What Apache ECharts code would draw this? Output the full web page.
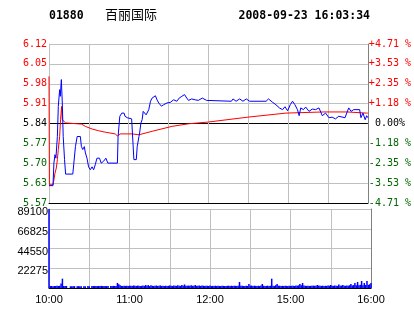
<!DOCTYPE html>
<html>
<head>
<meta charset="utf-8">
<script src="https://cdn.jsdelivr.net/npm/echarts@6/dist/echarts.min.js"></script>
<style>html,body{margin:0;padding:0;background:#fff}#c{width:414px;height:314px}</style>
</head>
<body>
<div id="c"></div>
<script>
// ---- data ----
const stockCode = '01880';
const stockName = '百丽国际';
const stamp = '2008-09-23 16:03:34';
const prevClose = 5.84;
const pctMin = -4.71, pctMax = 4.71, pctStep = 1.1775;
const priceLabels = ['5.57','5.63','5.70','5.77','5.84','5.91','5.98','6.05','6.12'];
const pctLabels = ['-4.71 %','-3.53 %','-2.35 %','-1.18 %',' 0.00%','+1.18 %','+2.35 %','+3.53 %','+4.71 %'];
const timeLabels = ['10:00','','11:00','','12:00','','15:00','','16:00'];
const volLabels = ['','22275','44550','66825','89100'];
const volMax = 89100, volStep = 22275;

// price line: minute index (0..240) and price
const priceMin = [0,3,3.7,4.5,5.2,6.3,7,8,8.5,9.3,10,10.7,11.7,12.5,17.9,18.7,19.9,21.2,23.6,24.4,25.4,26.6,27.4,28.6,29.8,31.1,32.4,33.6,34.8,36.1,38,39.3,41,42.8,44.3,51.5,52,53.3,54.8,56.5,57.2,58.9,62.2,63.2,63.9,65.7,66.4,67.7,68.2,69.2,70.1,70.9,72.1,73.1,74.2,75.1,76.4,77.6,80.1,81.3,82.6,84.6,86.3,88.8,91.3,93.8,95,96.2,98,100,102,103.7,105,107.4,110,112.4,115.4,118.6,119.9,137.3,138.5,140.8,143.5,146,148.5,151,163.4,165.2,168.4,170.8,173.4,175.8,177.6,179.6,181.6,183.3,185.1,187,188.3,189.5,191.5,193.2,195.7,198.2,200.7,203.2,205.7,208.2,210.7,213.1,215.6,218.1,222.8,225.6,227.4,229.3,233.8,234.8,236.3,238,239.1,240];
const priceVal = [5.625,5.625,5.703,5.732,5.72,5.795,5.899,5.957,5.934,5.992,5.911,5.795,5.715,5.665,5.665,5.703,5.76,5.795,5.795,5.76,5.75,5.76,5.738,5.72,5.69,5.68,5.69,5.68,5.697,5.72,5.72,5.703,5.709,5.72,5.703,5.703,5.795,5.865,5.876,5.876,5.865,5.86,5.856,5.853,5.715,5.715,5.76,5.795,5.807,5.842,5.853,5.882,5.888,5.87,5.865,5.888,5.917,5.928,5.936,5.922,5.911,5.90,5.905,5.911,5.913,5.922,5.925,5.917,5.928,5.934,5.94,5.928,5.92,5.925,5.922,5.92,5.928,5.92,5.917,5.917,5.925,5.917,5.925,5.917,5.925,5.917,5.917,5.925,5.913,5.905,5.894,5.888,5.898,5.884,5.905,5.917,5.905,5.888,5.867,5.894,5.888,5.897,5.882,5.89,5.888,5.894,5.867,5.876,5.86,5.862,5.856,5.865,5.86,5.894,5.882,5.888,5.888,5.86,5.876,5.853,5.867,5.86];

// average price line
const avgMin = [0,0.3,3,3.7,4.5,5.5,6.3,7,8,8.7,9.5,10,11.2,12.5,24.4,27.4,32.4,37.3,42.3,49.8,51.5,53.5,62.7,67.7,77.6,92.5,105,119.9,149.7,178.3,206.9,224.3,239.1,240];
const avgVal = [6.003,5.628,5.628,5.645,5.668,5.686,5.715,5.75,5.795,5.853,5.899,5.853,5.853,5.842,5.838,5.83,5.821,5.815,5.81,5.804,5.797,5.804,5.804,5.801,5.813,5.83,5.839,5.845,5.862,5.876,5.88,5.88,5.876,5.876];

// volume per minute (0..240)
const volumes = [
89100,2300,2300,2100,2300,2200,2400,2300,2500,5200,
10500,2300,2200,2300,0,0,2000,2100,2000,2200,
0,2000,2100,2000,2000,0,2100,2000,0,2200,
2100,0,2300,2200,2200,2300,2100,2300,2200,2400,
2200,2300,2100,2200,2300,0,2300,2200,2400,2300,
2200,5700,4200,3000,2400,2300,2600,2300,2400,2200,
2600,2400,2300,2900,2400,2300,2700,2500,2300,2400,
2800,2300,3400,2500,3300,2200,3200,2500,2300,2600,
2800,2300,2400,2900,2300,2400,2200,2600,2300,2500,
2700,2400,2300,2900,2500,2400,3000,2600,2400,3400,
2500,4000,2600,2500,2700,2400,3200,2500,2600,3300,
2400,2500,2800,2300,2700,2600,2300,2400,2500,2300,
2700,2200,2400,2300,2600,2200,2400,2300,2200,2500,
2400,2300,2200,2500,2400,2300,2600,2200,2400,2500,
2300,2500,6800,2400,2600,2300,2200,2400,2300,4500,
2400,2800,2300,2600,2400,2300,2500,2200,2700,4500,
2500,2300,2400,2600,2300,2500,10500,2400,2300,3200,
4500,2600,2400,2300,2500,2200,2600,2400,2300,2500,
2300,2600,2400,2300,2800,2500,3000,4500,3200,5600,
2800,2500,2400,2600,2300,2500,2400,2700,2500,2400,
3400,2700,2500,2400,2600,2300,2500,2400,2700,2600,
3400,2500,2400,2800,2600,2400,3900,2500,2700,3400,
2600,2500,2900,2600,3100,4500,2800,3300,5600,3200,
6800,3000,3600,7900,3100,5600,3400,7900,3500,4200,
5600];

// ---- chart ----
const RED = '#ff0000', GREEN = '#006400', GRIDC = '#c0c0c0';
const toPct = p => (p / prevClose - 1) * 100;
const tickIdx = v => Math.round((v - pctMin) / pctStep);
const labelColor = v => { const i = tickIdx(v); return i > 4 ? RED : (i < 4 ? GREEN : '#000'); };

const priceData = priceMin.map((m, i) => [m, toPct(priceVal[i])]);
const avgData = avgMin.map((m, i) => [m, toPct(avgVal[i])]);
const volData = volumes.map((v, i) => [i, v]);

const splitColors = priceLabels.map((_, i) => i === 0 || i === 4 ? '#000' : GRIDC);

const chart = echarts.init(document.getElementById('c'), null, {renderer: 'canvas'});
chart.setOption({
  animation: false,
  backgroundColor: '#fff',
  title: [
    {text: stockCode, left: 49, top: 10, padding: 0,
     textStyle: {fontFamily: 'DejaVu Sans Mono', fontWeight: 'bold', fontSize: 11.5, color: '#000'}},
    {text: stockName, left: 105, top: 8, padding: 0,
     textStyle: {fontFamily: 'Noto Sans CJK SC', fontWeight: 'normal', fontSize: 13, color: '#000'}},
    {text: stamp, right: 44, top: 10, padding: 0,
     textStyle: {fontFamily: 'DejaVu Sans Mono', fontWeight: 'bold', fontSize: 11.5, color: '#000'}}
  ],
  grid: [
    {left: 49, top: 44, width: 322, height: 159},
    {left: 49, top: 209, width: 322, height: 79}
  ],
  xAxis: [
    {type: 'value', gridIndex: 0, min: 0, max: 240, interval: 30,
     axisLine: {show: true, onZero: false, lineStyle: {color: '#000', width: 1}},
     axisTick: {show: false}, axisLabel: {show: false},
     splitLine: {show: true, lineStyle: {color: GRIDC, width: 1}}},
    {type: 'value', gridIndex: 1, min: 0, max: 240, interval: 30,
     axisLine: {show: true, onZero: false, lineStyle: {color: '#000', width: 1}},
     axisTick: {show: false},
     axisLabel: {show: true, margin: 6, fontFamily: 'Liberation Sans', fontSize: 11, color: '#000',
       formatter: (v) => timeLabels[Math.round(v / 30)] || ''},
     splitLine: {show: true, lineStyle: {color: GRIDC, width: 1}}}
  ],
  yAxis: [
    {type: 'value', gridIndex: 0, position: 'left', min: pctMin, max: pctMax, interval: pctStep,
     axisLine: {show: true, lineStyle: {color: GRIDC}}, axisTick: {show: false},
     splitLine: {show: true, lineStyle: {color: splitColors, width: 1}},
     axisLabel: {margin: 2, fontFamily: 'DejaVu Sans Mono', fontSize: 10,
       formatter: (v) => priceLabels[tickIdx(v)] || '', color: labelColor}},
    {type: 'value', gridIndex: 0, position: 'right', min: pctMin, max: pctMax, interval: pctStep,
     axisLine: {show: true, lineStyle: {color: '#808080'}}, axisTick: {show: false},
     splitLine: {show: false},
     axisLabel: {margin: 1, fontFamily: 'DejaVu Sans Mono', fontSize: 10, align: 'left',
       formatter: (v) => pctLabels[tickIdx(v)] || '', color: labelColor}},
    {type: 'value', gridIndex: 1, position: 'left', min: 0, max: volMax, interval: volStep,
     axisLine: {show: true, lineStyle: {color: GRIDC}}, axisTick: {show: false},
     splitLine: {show: true, lineStyle: {color: GRIDC, width: 1}},
     axisLabel: {margin: 1, fontFamily: 'Liberation Sans', fontSize: 11, color: '#000',
       verticalAlign: 'top', lineHeight: 6,
       formatter: (v) => volLabels[Math.round(v / volStep)] || ''}},
    {type: 'value', gridIndex: 1, position: 'right', min: 0, max: volMax, interval: volStep,
     axisLine: {show: true, lineStyle: {color: '#808080'}}, axisTick: {show: false},
     splitLine: {show: false}, axisLabel: {show: false}}
  ],
  series: [
    {type: 'line', name: 'avg', xAxisIndex: 0, yAxisIndex: 0, data: avgData, z: 2,
     showSymbol: false, symbol: 'none', lineStyle: {color: RED, width: 1}, silent: true},
    {type: 'line', name: 'price', xAxisIndex: 0, yAxisIndex: 0, data: priceData, z: 3,
     showSymbol: false, symbol: 'none', lineStyle: {color: '#0000ff', width: 1}, silent: true},
    {type: 'bar', name: 'vol', xAxisIndex: 1, yAxisIndex: 2, data: volData, barWidth: 1.5,
     itemStyle: {color: '#0000ff'}, silent: true}
  ]
});
</script>
</body>
</html>
